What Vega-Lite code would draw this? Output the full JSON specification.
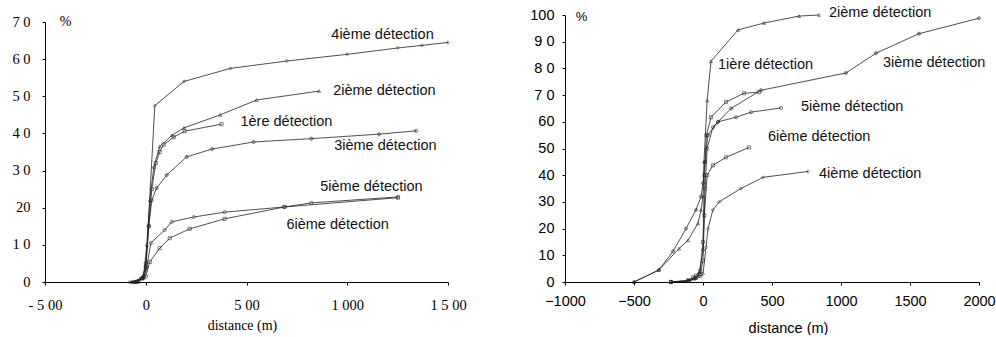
{
  "$schema": "https://vega.github.io/schema/vega-lite/v6.json",
  "padding": {"left": 11, "top": 5, "right": 0, "bottom": 0},
  "background": "white",
  "bounds": "flush",
  "spacing": 117,
  "config": {
    "view": {"stroke": null},
    "axis": {"grid": false, "domainColor": "#000", "tickColor": "#000", "labelColor": "#000", "titleColor": "#000", "tickSize": 3, "labelFlush": false, "labelOverlap": false, "titleFontWeight": "normal", "domainWidth": 1, "tickWidth": 1}
  },
  "datasets": {
    "left": [
      {"series": "4ième", "distance": -80, "pct": 0}, {"series": "4ième", "distance": -40, "pct": 0.3}, {"series": "4ième", "distance": -15, "pct": 1}, {"series": "4ième", "distance": 0, "pct": 3}, {"series": "4ième", "distance": 45, "pct": 47.5}, {"series": "4ième", "distance": 190, "pct": 54}, {"series": "4ième", "distance": 420, "pct": 57.5}, {"series": "4ième", "distance": 700, "pct": 59.5}, {"series": "4ième", "distance": 1000, "pct": 61.3}, {"series": "4ième", "distance": 1250, "pct": 63}, {"series": "4ième", "distance": 1370, "pct": 63.7}, {"series": "4ième", "distance": 1500, "pct": 64.5},
      {"series": "2ième", "distance": -70, "pct": 0}, {"series": "2ième", "distance": -30, "pct": 0.8}, {"series": "2ième", "distance": -10, "pct": 2}, {"series": "2ième", "distance": 5, "pct": 10}, {"series": "2ième", "distance": 20, "pct": 22}, {"series": "2ième", "distance": 40, "pct": 31}, {"series": "2ième", "distance": 70, "pct": 36.5}, {"series": "2ième", "distance": 130, "pct": 39.5}, {"series": "2ième", "distance": 190, "pct": 41.5}, {"series": "2ième", "distance": 370, "pct": 45}, {"series": "2ième", "distance": 550, "pct": 49}, {"series": "2ième", "distance": 860, "pct": 51.4},
      {"series": "1ère", "distance": -60, "pct": 0}, {"series": "1ère", "distance": -20, "pct": 1}, {"series": "1ère", "distance": 0, "pct": 4}, {"series": "1ère", "distance": 15, "pct": 15}, {"series": "1ère", "distance": 30, "pct": 25}, {"series": "1ère", "distance": 50, "pct": 32}, {"series": "1ère", "distance": 69, "pct": 35}, {"series": "1ère", "distance": 89, "pct": 37}, {"series": "1ère", "distance": 139, "pct": 39}, {"series": "1ère", "distance": 193, "pct": 40.6}, {"series": "1ère", "distance": 376, "pct": 42.5},
      {"series": "3ième", "distance": -50, "pct": 0}, {"series": "3ième", "distance": -15, "pct": 1}, {"series": "3ième", "distance": 0, "pct": 5}, {"series": "3ième", "distance": 15, "pct": 15}, {"series": "3ième", "distance": 30, "pct": 22}, {"series": "3ième", "distance": 54, "pct": 25.3}, {"series": "3ième", "distance": 104, "pct": 28.8}, {"series": "3ième", "distance": 203, "pct": 33.7}, {"series": "3ième", "distance": 330, "pct": 35.8}, {"series": "3ième", "distance": 535, "pct": 37.7}, {"series": "3ième", "distance": 822, "pct": 38.6}, {"series": "3ième", "distance": 1158, "pct": 39.8}, {"series": "3ième", "distance": 1342, "pct": 40.7},
      {"series": "5ième", "distance": -50, "pct": 0}, {"series": "5ième", "distance": -10, "pct": 1}, {"series": "5ième", "distance": 5, "pct": 4}, {"series": "5ième", "distance": 25, "pct": 10.5}, {"series": "5ième", "distance": 94, "pct": 14}, {"series": "5ième", "distance": 129, "pct": 16.2}, {"series": "5ième", "distance": 238, "pct": 17.5}, {"series": "5ième", "distance": 391, "pct": 18.8}, {"series": "5ième", "distance": 688, "pct": 20.2}, {"series": "5ième", "distance": 822, "pct": 21.3}, {"series": "5ième", "distance": 1252, "pct": 22.9},
      {"series": "6ième", "distance": -40, "pct": 0}, {"series": "6ième", "distance": 0, "pct": 1.5}, {"series": "6ième", "distance": 20, "pct": 5.4}, {"series": "6ième", "distance": 69, "pct": 9.1}, {"series": "6ième", "distance": 119, "pct": 11.8}, {"series": "6ième", "distance": 218, "pct": 14.3}, {"series": "6ième", "distance": 391, "pct": 17}, {"series": "6ième", "distance": 688, "pct": 20.2}, {"series": "6ième", "distance": 1252, "pct": 22.7}
    ],
    "right": [
      {"series": "2ième", "distance": -500, "pct": 0}, {"series": "2ième", "distance": -320, "pct": 4.5}, {"series": "2ième", "distance": -174, "pct": 12.5}, {"series": "2ième", "distance": -109, "pct": 15.6}, {"series": "2ième", "distance": -36, "pct": 22}, {"series": "2ième", "distance": -14, "pct": 27}, {"series": "2ième", "distance": 0, "pct": 32}, {"series": "2ième", "distance": 7, "pct": 45}, {"series": "2ième", "distance": 30, "pct": 68}, {"series": "2ième", "distance": 58, "pct": 82.7}, {"series": "2ième", "distance": 254, "pct": 94.4}, {"series": "2ième", "distance": 442, "pct": 97}, {"series": "2ième", "distance": 696, "pct": 99.6}, {"series": "2ième", "distance": 840, "pct": 100},
      {"series": "3ième", "distance": -500, "pct": 0}, {"series": "3ième", "distance": -320, "pct": 4.5}, {"series": "3ième", "distance": -217, "pct": 11.5}, {"series": "3ième", "distance": -123, "pct": 20}, {"series": "3ième", "distance": -51, "pct": 27}, {"series": "3ième", "distance": -14, "pct": 32}, {"series": "3ième", "distance": 0, "pct": 37}, {"series": "3ième", "distance": 15, "pct": 45}, {"series": "3ième", "distance": 35, "pct": 55}, {"series": "3ième", "distance": 109, "pct": 60}, {"series": "3ième", "distance": 203, "pct": 65}, {"series": "3ième", "distance": 420, "pct": 71.8}, {"series": "3ième", "distance": 1036, "pct": 78.3}, {"series": "3ième", "distance": 1254, "pct": 85.7}, {"series": "3ième", "distance": 1565, "pct": 93}, {"series": "3ième", "distance": 2000, "pct": 98.8},
      {"series": "1ière", "distance": -232, "pct": 0}, {"series": "1ière", "distance": -109, "pct": 0.6}, {"series": "1ière", "distance": -72, "pct": 1.7}, {"series": "1ière", "distance": -51, "pct": 2.4}, {"series": "1ière", "distance": -20, "pct": 4}, {"series": "1ière", "distance": 0, "pct": 15}, {"series": "1ière", "distance": 10, "pct": 40}, {"series": "1ière", "distance": 25, "pct": 55}, {"series": "1ière", "distance": 58, "pct": 61.7}, {"series": "1ière", "distance": 167, "pct": 67.4}, {"series": "1ière", "distance": 297, "pct": 70.7}, {"series": "1ière", "distance": 406, "pct": 71.1},
      {"series": "5ième", "distance": -232, "pct": 0}, {"series": "5ième", "distance": -109, "pct": 0.5}, {"series": "5ième", "distance": -60, "pct": 1.5}, {"series": "5ième", "distance": -30, "pct": 3}, {"series": "5ième", "distance": 0, "pct": 12}, {"series": "5ième", "distance": 15, "pct": 35}, {"series": "5ième", "distance": 30, "pct": 50}, {"series": "5ième", "distance": 72, "pct": 58}, {"series": "5ième", "distance": 109, "pct": 60}, {"series": "5ième", "distance": 239, "pct": 61.7}, {"series": "5ième", "distance": 348, "pct": 63.6}, {"series": "5ième", "distance": 565, "pct": 65.2},
      {"series": "6ième", "distance": -232, "pct": 0}, {"series": "6ième", "distance": -100, "pct": 0.5}, {"series": "6ième", "distance": -50, "pct": 1.5}, {"series": "6ième", "distance": -20, "pct": 3}, {"series": "6ième", "distance": 0, "pct": 8}, {"series": "6ième", "distance": 10, "pct": 25}, {"series": "6ième", "distance": 30, "pct": 40}, {"series": "6ième", "distance": 72, "pct": 43.7}, {"series": "6ième", "distance": 167, "pct": 46.7}, {"series": "6ième", "distance": 333, "pct": 50.4},
      {"series": "4ième", "distance": -232, "pct": 0}, {"series": "4ième", "distance": -109, "pct": 0.3}, {"series": "4ième", "distance": -60, "pct": 1}, {"series": "4ième", "distance": -20, "pct": 2}, {"series": "4ième", "distance": 0, "pct": 3}, {"series": "4ième", "distance": 22, "pct": 13}, {"series": "4ième", "distance": 36, "pct": 20}, {"series": "4ième", "distance": 72, "pct": 27}, {"series": "4ième", "distance": 116, "pct": 30}, {"series": "4ième", "distance": 275, "pct": 35}, {"series": "4ième", "distance": 435, "pct": 39.2}, {"series": "4ième", "distance": 761, "pct": 41.4}
    ],
    "leftLabels": [
      {"label": "4ième détection", "distance": 921, "pct": 66.5},
      {"label": "2ième détection", "distance": 930, "pct": 51.4},
      {"label": "1ère détection", "distance": 470, "pct": 43.1},
      {"label": "3ième détection", "distance": 935, "pct": 36.6},
      {"label": "5ième détection", "distance": 866, "pct": 25.6},
      {"label": "6ième détection", "distance": 698, "pct": 15.3}
    ],
    "rightLabels": [
      {"label": "2ième détection", "distance": 913, "pct": 100.7},
      {"label": "1ière détection", "distance": 109, "pct": 81.2},
      {"label": "3ième détection", "distance": 1304, "pct": 82},
      {"label": "5ième détection", "distance": 710, "pct": 65.5},
      {"label": "6ième détection", "distance": 471, "pct": 54.2},
      {"label": "4ième détection", "distance": 841, "pct": 40.3}
    ]
  },
  "hconcat": [
    {
      "width": 403,
      "height": 267,
      "encoding": {
        "x": {"field": "distance", "type": "quantitative",
          "scale": {"domain": [-500, 1500], "nice": false, "zero": false},
          "axis": {"values": [-500, 0, 500, 1000, 1500],
            "labelExpr": "datum.value == -500 ? '- 5 00' : datum.value == 0 ? '0' : datum.value == 500 ? '5 00' : datum.value == 1000 ? '1 000' : '1 5 00'",
            "labelFont": "Liberation Serif", "labelFontSize": 14.5, "labelPadding": 13,
            "title": "distance (m)", "titleFont": "Liberation Serif", "titleFontSize": 14,
            "titleX": 197, "titleY": 43, "titleBaseline": "middle", "titleAlign": "center"}},
        "y": {"field": "pct", "type": "quantitative",
          "scale": {"domain": [0, 70], "range": [267, 7], "nice": false},
          "axis": {"values": [0, 10, 20, 30, 40, 50, 60, 70],
            "labelExpr": "datum.value == 0 || datum.value == 20 ? toString(datum.value) : toString(datum.value / 10) + ' 0'",
            "labelFont": "Liberation Serif", "labelFontSize": 14.5, "labelPadding": 12,
            "title": "%", "titleAngle": 0, "titleX": 20, "titleY": 6, "titleAlign": "center", "titleBaseline": "middle",
            "titleFont": "Liberation Serif", "titleFontSize": 14}}
      },
      "layer": [
        {"data": {"name": "left"},
         "mark": {"type": "line", "color": "#222", "strokeWidth": 0.8},
         "encoding": {"detail": {"field": "series"}}},
        {"data": {"name": "left"},
         "mark": {"type": "point", "size": 10, "strokeWidth": 0.8, "filled": false, "color": "#222"},
         "encoding": {"shape": {"field": "series", "legend": null,
           "scale": {"domain": ["1ère", "2ième", "3ième", "4ième", "5ième", "6ième"], "range": ["square", "triangle-up", "cross", "diamond", "circle", "square"]}}}},
        {"data": {"name": "leftLabels"},
         "mark": {"type": "text", "align": "left", "baseline": "middle", "font": "Liberation Sans", "fontSize": 14.5, "color": "#111"},
         "encoding": {"text": {"field": "label"}}}
      ]
    },
    {
      "width": 414,
      "height": 267,
      "encoding": {
        "x": {"field": "distance", "type": "quantitative",
          "scale": {"domain": [-1000, 2000], "nice": false, "zero": false},
          "axis": {"values": [-1000, -500, 0, 500, 1000, 1500, 2000], "format": "d",
            "labelFont": "Liberation Sans", "labelFontSize": 14.5, "labelPadding": 9,
            "title": "distance (m)", "titleFont": "Liberation Sans", "titleFontSize": 14.5,
            "titleX": 223, "titleY": 46, "titleBaseline": "middle", "titleAlign": "center"}},
        "y": {"field": "pct", "type": "quantitative",
          "scale": {"domain": [0, 100], "nice": false},
          "axis": {"values": [0, 10, 20, 30, 40, 50, 60, 70, 80, 90, 100],
            "labelExpr": "datum.value >= 70 && datum.value <= 90 ? toString(datum.value / 10) + ' 0' : toString(datum.value)",
            "labelFont": "Liberation Sans", "labelFontSize": 14.5, "labelPadding": 8,
            "title": "%", "titleAngle": 0, "titleX": 16, "titleY": 1, "titleAlign": "center", "titleBaseline": "middle",
            "titleFont": "Liberation Sans", "titleFontSize": 13}}
      },
      "layer": [
        {"data": {"name": "right"},
         "mark": {"type": "line", "color": "#222", "strokeWidth": 0.8},
         "encoding": {"detail": {"field": "series"}}},
        {"data": {"name": "right"},
         "mark": {"type": "point", "size": 10, "strokeWidth": 0.8, "filled": false, "color": "#222"},
         "encoding": {"shape": {"field": "series", "legend": null,
           "scale": {"domain": ["1ière", "2ième", "3ième", "4ième", "5ième", "6ième"], "range": ["square", "cross", "cross", "diamond", "triangle-up", "square"]}}}},
        {"data": {"name": "rightLabels"},
         "mark": {"type": "text", "align": "left", "baseline": "middle", "font": "Liberation Sans", "fontSize": 14.5, "color": "#111"},
         "encoding": {"text": {"field": "label"}}}
      ]
    }
  ]
}
